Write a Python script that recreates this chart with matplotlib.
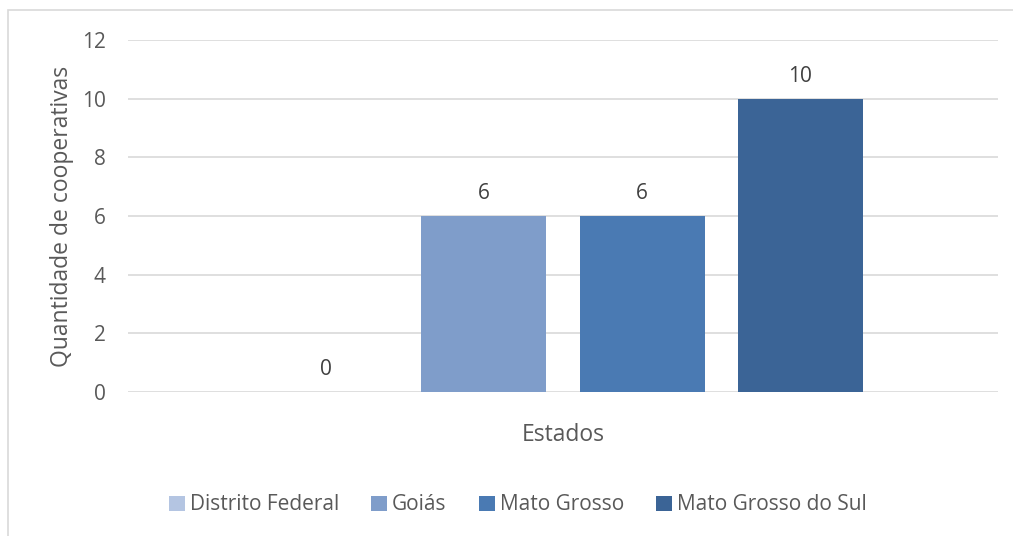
import matplotlib
matplotlib.use("Agg")
import matplotlib.pyplot as plt
from matplotlib.patches import Rectangle, Patch

categories = ["Estados"]
series_names = ["Distrito Federal", "Goiás", "Mato Grosso", "Mato Grosso do Sul"]
series_values = [0, 6, 6, 10]
colors = ["#b4c5e2", "#7f9dca", "#4a7ab3", "#3b6496"]
yticks = [0, 2, 4, 6, 8, 10, 12]

plt.rcParams['font.family'] = ['Open Sans', 'DejaVu Sans']
txt = "#595959"

fig = plt.figure(figsize=(10.13, 5.36), dpi=100)
fig.patches.append(Rectangle((8/1013, -0.1), 1.2, 1 - 10/536 + 0.1, transform=fig.transFigure,
                             fill=False, edgecolor="#d9d9d9", lw=1.2))
ax = fig.add_axes([128/1013, 1 - 392/536, 870/1013, 352/536])

width = 0.79
n = len(series_names)
for i, (name, val, c) in enumerate(zip(series_names, series_values, colors)):
    x = i - (n - 1) / 2
    ax.bar(x, val, width=width, color=c, zorder=3, label=name)
    ax.text(x, val + 0.4, f"{val}", ha="center", va="bottom", fontsize=15, color="#404040")

ax.set_xlim(-2.75, 2.75)
ax.set_ylim(0, 12)
ax.set_yticks(yticks)
ax.set_yticklabels([str(t) for t in yticks], fontsize=15, color=txt)
ax.tick_params(axis="y", length=0, pad=16)
ax.set_xticks([])
ax.grid(axis="y", color="#d9d9d9", lw=1.2, zorder=0)
for s in ax.spines.values():
    s.set_visible(False)
ax.set_ylabel("Quantidade de cooperativas", fontsize=16.5, color=txt, labelpad=6)
ax.set_xlabel(categories[0], fontsize=16.5, color=txt, labelpad=22)

handles = [Patch(facecolor=c, edgecolor="none") for c in colors]
fig.legend(handles, series_names, loc="center", bbox_to_anchor=(518/1013, 1 - 505/536),
           ncol=4, frameon=False, fontsize=15, labelcolor=txt, handlelength=0.75,
           handleheight=0.75, handletextpad=0.25, columnspacing=1.55)

fig.savefig("out.png", dpi=100)
